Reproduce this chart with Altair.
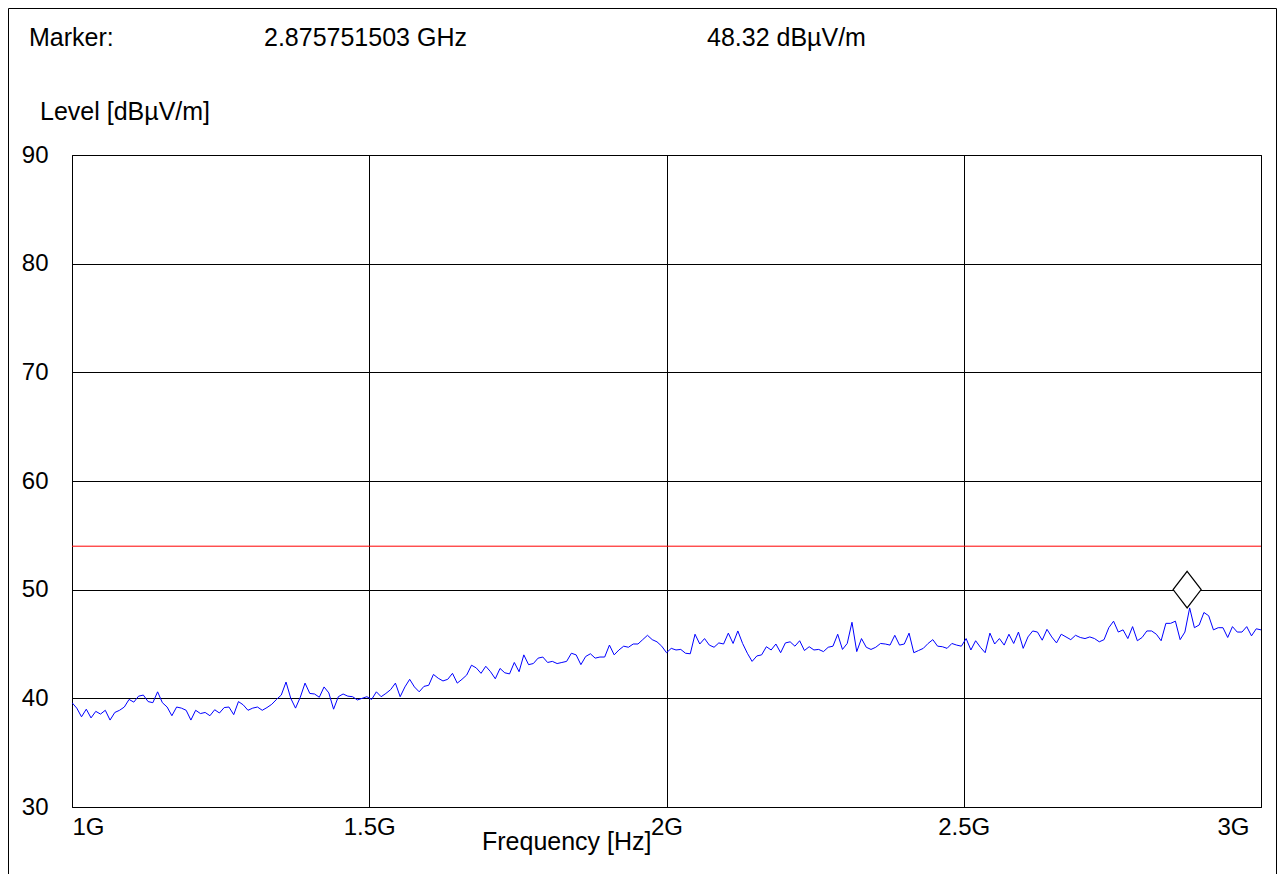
import altair as alt
import numpy as np
import pandas as pd

# ---- data ----
START_GHZ = 1.0
STOP_GHZ = 3.0

levels = [
    39.6, 39.1, 38.3, 39.0, 38.2, 38.8, 38.55, 38.9, 38.0, 38.7,
    38.9, 39.2, 39.9, 39.65, 40.2, 40.3, 39.7, 39.6, 40.6, 39.6,
    39.2, 38.4, 39.2, 39.1, 38.9, 38.0, 38.9, 38.6, 38.7, 38.4,
    38.95, 38.65, 39.15, 39.2, 38.5, 39.7, 39.4, 38.9, 39.1, 39.2,
    38.9, 39.15, 39.45, 39.9, 40.3, 41.5, 40.0, 39.1, 40.1, 41.4,
    40.45, 40.4, 40.1, 41.05, 40.5, 39.0, 40.15, 40.4, 40.2, 40.15,
    39.85, 40.0, 40.15, 39.9, 40.6, 40.15, 40.45, 40.8, 41.4, 40.15,
    41.05, 41.75, 41.05, 40.6, 41.1, 41.2, 42.2, 41.85, 41.6, 41.75,
    42.3, 41.4, 41.75, 42.15, 43.05, 42.8, 42.3, 42.95, 42.45, 41.8,
    42.75, 42.35, 42.25, 43.3, 42.45, 44.0, 43.1, 43.2, 43.7, 43.8,
    43.3, 43.4, 43.2, 43.3, 43.4, 44.15, 44.0, 43.1, 43.85, 44.1,
    43.7, 43.8, 43.8, 44.9, 44.0, 44.45, 44.8, 44.7, 45.0, 45.0,
    45.4, 45.8, 45.4, 45.2, 44.8, 44.2, 44.6, 44.45, 44.5, 44.15,
    44.1, 45.9, 45.0, 45.5, 44.9, 44.7, 45.1, 45.0, 46.0, 45.05,
    46.2, 45.05, 44.15, 43.4, 43.9, 44.0, 44.75, 44.45, 45.0, 44.2,
    45.1, 45.2, 44.8, 45.3, 44.4, 44.75, 44.45, 44.5, 44.3, 44.7,
    44.8, 45.9, 44.5, 45.05, 47.0, 44.3, 45.5, 44.7, 44.5, 44.7,
    45.05, 45.0, 44.9, 45.8, 44.9, 45.0, 46.0, 44.2, 44.4, 44.6,
    45.05, 45.4, 44.8, 44.75, 44.6, 45.05, 44.9, 44.8, 45.5, 44.45,
    45.3, 44.7, 44.2, 46.0, 45.0, 45.5, 44.9, 45.9, 45.05, 46.1,
    44.6, 45.65, 46.2, 46.1, 45.35, 46.35, 45.65, 45.1, 45.9, 45.65,
    45.4, 45.8, 45.6, 45.5, 45.65, 45.5, 45.2, 45.4, 46.5, 47.1,
    46.1, 46.3, 45.5, 46.6, 45.3, 45.6, 46.2, 46.2, 45.9, 45.3,
    46.9, 46.9, 47.1, 45.4, 46.1, 48.32, 46.5, 46.75, 47.9, 47.6,
    46.3, 46.5, 46.5, 45.6, 46.6, 46.1, 46.1, 46.6, 45.75, 46.4,
    46.3,
]

LIMIT = 54.0
MARKER_FREQ_GHZ = 2.875751503
MARKER_LEVEL = 48.32

x_ticks = [1.0, 1.5, 2.0, 2.5, 3.0]
y_ticks = [30, 40, 50, 60, 70, 80, 90]

marker_label = "Marker:"
marker_freq_text = f"{MARKER_FREQ_GHZ:.9f} GHz"
marker_level_text = f"{MARKER_LEVEL:.2f} dBµV/m"
y_title = "Level [dBµV/m]"
x_title = "Frequency [Hz]"

# sweep points, evenly spaced between start and stop
freqs = np.linspace(START_GHZ, STOP_GHZ, len(levels))
trace = pd.DataFrame({"freq": freqs, "level": levels})

FONT = "Liberation Sans"
FS = 24
TFS = 25

xscale = alt.Scale(domain=[START_GHZ, STOP_GHZ], nice=False, zero=False)
yscale = alt.Scale(domain=[30, 90], nice=False, zero=False)

x_axis = alt.Axis(
    values=x_ticks,
    labelExpr="datum.value + 'G'",
    title=None,
    ticks=False,
    domain=False,
    grid=True,
    gridColor="#000000",
    gridOpacity=1,
    gridWidth=1,
    labelFont=FONT,
    labelFontSize=FS,
    labelColor="#000000",
    labelPadding=8,
    labelBaseline="top",
    labelFlush=True,
    labelOverlap=False,
    labelBound=False,
    labelOffset={"condition": {"test": "datum.value == 3", "value": -12}, "value": 0},
)
y_axis = alt.Axis(
    values=y_ticks,
    title=None,
    ticks=False,
    domain=False,
    grid=True,
    gridColor="#000000",
    gridOpacity=1,
    gridWidth=1,
    labelFont=FONT,
    labelFontSize=FS,
    labelColor="#000000",
    labelPadding=24,
    labelAlign="right",
    labelBaseline="middle",
    labelFlush=False,
    labelOverlap=False,
    labelBound=False,
)

line = alt.Chart(trace).mark_line(color="#0000ff", strokeWidth=1, clip=True).encode(
    x=alt.X("freq:Q", scale=xscale, axis=x_axis),
    y=alt.Y("level:Q", scale=yscale, axis=y_axis),
)

limit = alt.Chart(pd.DataFrame({"limit": [LIMIT]})).mark_rule(
    color="#ff0000", strokeWidth=1
).encode(y=alt.Y("limit:Q", scale=yscale))

diamond_path = "M0,-2L0.766,-1L0,0L-0.766,-1Z"
marker = alt.Chart(
    pd.DataFrame({"f": [MARKER_FREQ_GHZ], "l": [MARKER_LEVEL]})
).mark_point(
    shape=diamond_path, size=1340, filled=True, fill="#ffffff",
    stroke="#000000", strokeWidth=1.2, opacity=1,
).encode(x=alt.X("f:Q", scale=xscale), y=alt.Y("l:Q", scale=yscale))


def label(txt, x, y, align="left"):
    return alt.Chart(pd.DataFrame({"t": [txt]})).mark_text(
        font=FONT, fontSize=TFS, color="#000000", align=align, baseline="alphabetic"
    ).encode(text="t:N", x=alt.value(x), y=alt.value(y))


t1 = label(marker_label, -43, -109.5)
t2 = label(marker_freq_text, 192, -109.5)
t3 = label(marker_level_text, 635, -109.5)
t4 = label(y_title, -32, -35)
t5 = label(x_title, 410, 695)

frame = alt.Chart(pd.DataFrame({"a": [0]})).mark_rect(
    fillOpacity=0, stroke="#000000", strokeWidth=1
).encode(
    x=alt.value(-63.5), x2=alt.value(1204.5), y=alt.value(-146.5), y2=alt.value(760)
)

chart = alt.layer(frame, line, limit, marker, t1, t2, t3, t4, t5).properties(
    width=1189,
    height=652,
    autosize=alt.AutoSizeParams(type="none"),
    padding={"left": 64, "top": 147, "right": 16, "bottom": 67},
    background="#ffffff",
).configure_view(stroke="#000000", strokeWidth=1)

chart.save("out.html", embed_options={"renderer": "svg", "actions": False})
